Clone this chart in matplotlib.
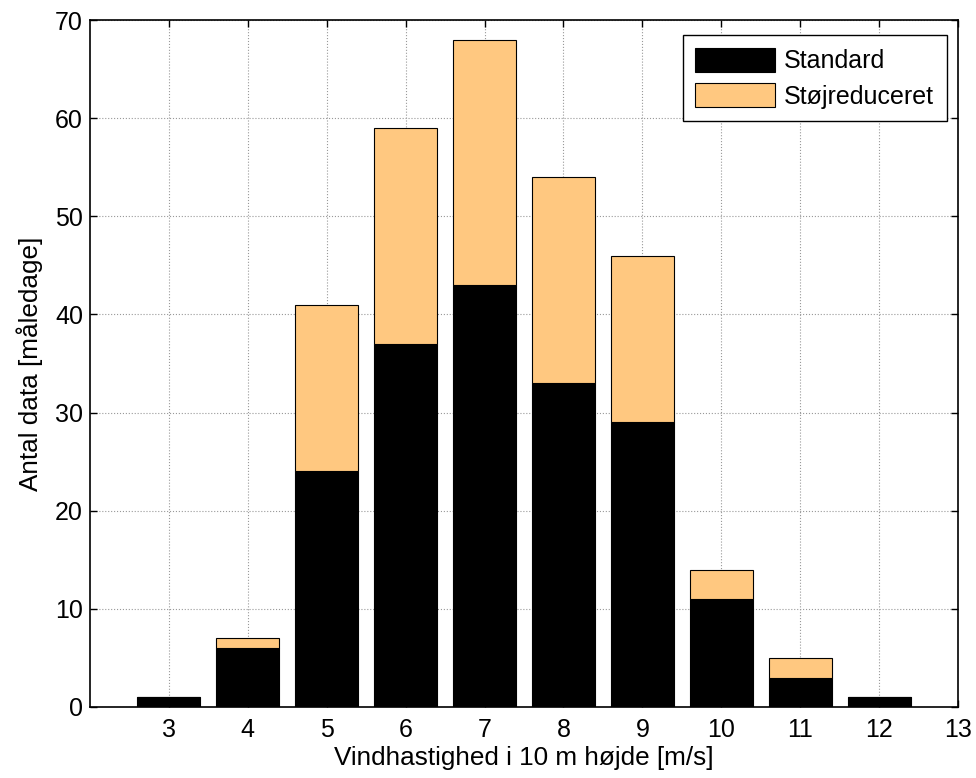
import matplotlib.pyplot as plt
import numpy as np

plt.rcParams['font.family'] = ['Liberation Sans', 'DejaVu Sans']

wind = [3, 4, 5, 6, 7, 8, 9, 10, 11, 12]
standard = [1, 6, 24, 37, 43, 33, 29, 11, 3, 1]
stoej = [0, 1, 17, 22, 25, 21, 17, 3, 2, 0]
xticks = [3, 4, 5, 6, 7, 8, 9, 10, 11, 12, 13]
yticks = [0, 10, 20, 30, 40, 50, 60, 70]

FS = 18

fig = plt.figure(figsize=(9.76, 7.78), dpi=100)
ax = fig.add_axes([90/976, 1-707/778, 868/976, 687/778])

ax.bar(wind, standard, width=0.8, color='k', edgecolor='k', linewidth=0.8,
       label='Standard', zorder=3)
ax.bar(wind, stoej, width=0.8, bottom=standard, color='#FFC880', edgecolor='k',
       linewidth=0.8, label='Støjreduceret', zorder=3)

ax.set_xlim(2, 13)
ax.set_ylim(0, 70)
ax.set_xticks(xticks)
ax.set_yticks(yticks)
ax.grid(True, linestyle=':', color='#999999', linewidth=0.8, zorder=0)
ax.tick_params(direction='in', length=5, width=1, labelsize=FS, top=True, right=True)
ax.tick_params(axis='x', pad=8)
ax.tick_params(axis='y', pad=5)
for s in ax.spines.values():
    s.set_linewidth(1.2)

ax.set_xlabel('Vindhastighed i 10 m højde [m/s]', fontsize=18.8, labelpad=3)
ax.set_ylabel('Antal data [måledage]', fontsize=18.8, labelpad=9)

leg = ax.legend(loc='upper right', bbox_to_anchor=(0.987, 0.978), fontsize=FS,
                fancybox=False, framealpha=1, edgecolor='k',
                handlelength=3.2, handleheight=1.1, handletextpad=0.35,
                borderaxespad=0, borderpad=0.5, labelspacing=0.4)
leg.get_frame().set_linewidth(1)

fig.savefig('out.png', dpi=100)
